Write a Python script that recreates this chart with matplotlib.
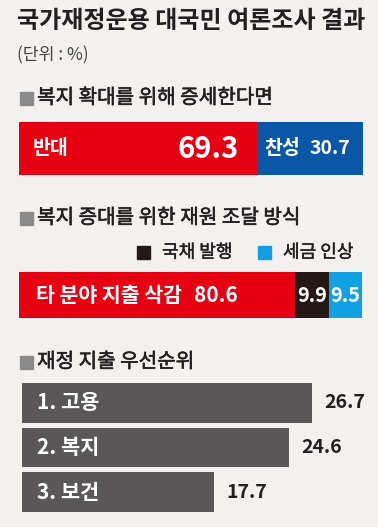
import matplotlib
matplotlib.use("Agg")
import matplotlib.pyplot as plt
from matplotlib.patches import Rectangle
import matplotlib.patheffects as pe

plt.rcParams['font.family'] = ['Noto Sans CJK KR', 'DejaVu Sans']

# ---- data ----
title = "국가재정운용 대국민 여론조사 결과"
unit = "(단위 : %)"

s1_title = "복지 확대를 위해 증세한다면"
s1_labels = ["반대", "찬성"]
s1_values = [69.3, 30.7]

s2_title = "복지 증대를 위한 재원 조달 방식"
s2_labels = ["타 분야 지출 삭감", "국채 발행", "세금 인상"]
s2_values = [80.6, 9.9, 9.5]

s3_title = "재정 지출 우선순위"
s3_labels = ["1. 고용", "2. 복지", "3. 보건"]
s3_values = [26.7, 24.6, 17.7]

W, H = 378, 527
BG = "#f2f1ef"
RED = "#e50012"
BLUE = "#0a57a6"
BLACK = "#231815"
SKY = "#12a0e3"
GRAY = "#595757"
SQ = "#8a8a8a"
TXT = "#231f20"

fig = plt.figure(figsize=(W / 100, H / 100), dpi=100, facecolor=BG)


def fx(x):
    return x / W


def fy(y):
    return 1 - y / H


def px_axes(x0, y0, x1, y1):
    ax = fig.add_axes([fx(x0), fy(y1), (x1 - x0) / W, (y1 - y0) / H])
    ax.set_axis_off()
    ax.set_facecolor("none")
    return ax


def square(x, y, s, color):
    fig.patches.append(Rectangle((fx(x), fy(y + s)), s / W, s / H,
                                 transform=fig.transFigure, color=color))


thick = [pe.withStroke(linewidth=0.4, foreground=TXT)]

# title
fig.text(fx(17), fy(21), title, fontsize=17.3, fontweight='bold', color=TXT,
         va='center', ha='left')
fig.text(fx(17), fy(55), unit, fontsize=12.4, color="#444444", va='center', ha='left')

# section headers
def header(y, text):
    square(20, y - 6.5, 13, SQ)
    fig.text(fx(37), fy(y), text, fontsize=14.5, color=TXT,
             va='center', ha='left', path_effects=thick)

header(98, s1_title)
header(218, s2_title)
header(362, s3_title)

# ---- section 1 ----
ax1 = px_axes(19, 122, 363, 175)
left = 0
cols1 = [RED, BLUE]
for v, c in zip(s1_values, cols1):
    ax1.barh(0, v, left=left, height=1, color=c)
    left += v
ax1.set_xlim(0, sum(s1_values))
ax1.set_ylim(-0.5, 0.5)
ax1.text(4, 0, s1_labels[0], color='white', fontsize=14, fontweight='bold',
         va='center', ha='left')
ax1.text(s1_values[0] - 5.5, 0, f"{s1_values[0]}", color='white', fontsize=21,
         fontweight='bold', va='center', ha='right')
ax1.text(s1_values[0] + 2, 0, f"{s1_labels[1]}", color='white', fontsize=14,
         fontweight='bold', va='center', ha='left')
ax1.text(sum(s1_values) - 3.8, 0, f"{s1_values[1]}", color='white', fontsize=14,
         fontweight='bold', va='center', ha='right')

# legend for section 2
lthin = [pe.withStroke(linewidth=0.3, foreground=TXT)]
square(137, 246, 13, BLACK)
fig.text(fx(162), fy(252.5), s2_labels[1], fontsize=13, color=TXT, va='center',
         ha='left', path_effects=lthin)
square(258, 246, 13, SKY)
fig.text(fx(283), fy(252.5), s2_labels[2], fontsize=13, color=TXT, va='center',
         ha='left', path_effects=lthin)

# ---- section 2 ----
ax2 = px_axes(19, 272, 362, 318)
left = 0
cols2 = [RED, BLACK, SKY]
for v, c in zip(s2_values, cols2):
    ax2.barh(0, v, left=left, height=1, color=c)
    left += v
ax2.set_xlim(0, sum(s2_values))
ax2.set_ylim(-0.5, 0.5)
ax2.text(5, 0, f"{s2_labels[0]}", color='white', fontsize=14.8,
         fontweight='bold', va='center', ha='left')
ax2.text(s2_values[0] - 16.8, 0, f"{s2_values[0]}", color='white', fontsize=15,
         fontweight='bold', va='center', ha='right')
ax2.text(s2_values[0] + s2_values[1] / 2, 0, f"{s2_values[1]}", color='white',
         fontsize=14.5, fontweight='bold', va='center', ha='center')
ax2.text(s2_values[0] + s2_values[1] + s2_values[2] / 2, 0, f"{s2_values[2]}",
         color='white', fontsize=14.5, fontweight='bold', va='center', ha='center')

# ---- section 3 ----
ax3 = px_axes(22, 383, 363, 512)
bh = 0.889
ypos = list(range(len(s3_values)))
ax3.barh(ypos, s3_values, height=bh, color=GRAY)
ax3.set_xlim(0, 341 / 10.86)
ax3.set_ylim(len(s3_values) - 1 + bh / 2, -bh / 2)
for y, lab, v in zip(ypos, s3_labels, s3_values):
    ax3.text(1.4, y, lab, color='white', fontsize=15, fontweight='bold',
             va='center', ha='left')
    ax3.text(v + 1.1, y, f"{v}", color=TXT, fontsize=14,
             fontweight='bold', va='center', ha='left')

fig.savefig("out.png", dpi=100, facecolor=BG)
